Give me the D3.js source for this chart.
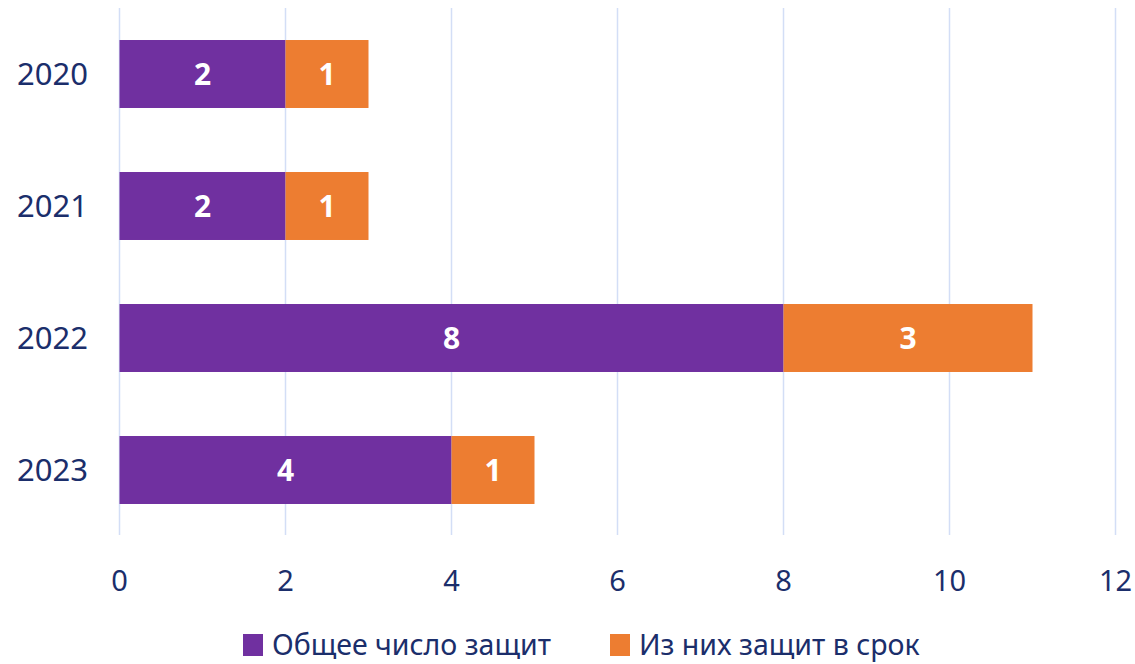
<!DOCTYPE html>
<html>
<head>
<meta charset="utf-8">
<script src="https://cdn.jsdelivr.net/npm/d3@7"></script>
<style>
  body { margin: 0; background: #fff; }
  svg { display: block; font-family: "Noto Sans", Lato, sans-serif; }
</style>
</head>
<body>
<svg id="chart" width="1135" height="664"></svg>
<script>
// Данные
const years = ['2020', '2021', '2022', '2023'];
const totalDefenses = [2, 2, 8, 4];
const onTimeDefenses = [1, 1, 3, 1];
const seriesNames = ['Общее число защит', 'Из них защит в срок'];
const xTicks = [0, 2, 4, 6, 8, 10, 12];

const colors = ['#7030a0', '#ed7d31'];
const textColor = '#1b2e6b';
const gridColor = '#d3def6';

const svg = d3.select('#chart');

const x = d3.scaleLinear().domain([0, 12]).range([119.5, 1115.5]);
const y = d3.scaleBand().domain(years).range([8, 536]).paddingInner(0.485).paddingOuter(0.2425);

// Сетка
svg.append('g')
  .selectAll('line')
  .data(xTicks)
  .join('line')
  .attr('x1', d => x(d)).attr('x2', d => x(d))
  .attr('y1', 8).attr('y2', 535)
  .attr('stroke', gridColor)
  .attr('stroke-width', 1.5);

// Подписи оси X
svg.append('g')
  .selectAll('text')
  .data(xTicks)
  .join('text')
  .attr('x', d => x(d))
  .attr('y', 591)
  .attr('text-anchor', 'middle')
  .attr('fill', textColor)
  .style('font-size', '29px')
  .text(d => d);

// Подписи категорий
svg.append('g')
  .selectAll('text')
  .data(years)
  .join('text')
  .attr('x', 88)
  .attr('y', d => y(d) + y.bandwidth() / 2)
  .attr('dy', '0.36em')
  .attr('text-anchor', 'end')
  .attr('fill', textColor)
  .style('font-size', '31px')
  .text(d => d);

// Стек
const rows = years.map((yr, i) => ({ year: yr, total: totalDefenses[i], onTime: onTimeDefenses[i] }));
const stack = d3.stack().keys(['total', 'onTime'])(rows);

stack.forEach((layer, li) => {
  const g = svg.append('g');
  g.selectAll('rect')
    .data(layer)
    .join('rect')
    .attr('x', d => x(d[0]))
    .attr('y', d => y(d.data.year))
    .attr('width', d => x(d[1]) - x(d[0]))
    .attr('height', y.bandwidth())
    .attr('fill', colors[li]);
  g.selectAll('text')
    .data(layer)
    .join('text')
    .attr('x', d => (x(d[0]) + x(d[1])) / 2)
    .attr('y', d => y(d.data.year) + y.bandwidth() / 2)
    .attr('dy', '0.36em')
    .attr('text-anchor', 'middle')
    .attr('fill', '#fff')
    .style('font-size', '30px')
    .style('font-weight', 'bold')
    .text(d => d[1] - d[0]);
});

// Легенда
const legendX = [243, 610];
const legend = svg.append('g')
  .selectAll('g')
  .data(seriesNames)
  .join('g')
  .attr('transform', (d, i) => `translate(${legendX[i]},634)`);
legend.append('rect')
  .attr('width', 20).attr('height', 22)
  .attr('fill', (d, i) => colors[i]);
legend.append('text')
  .attr('x', 29)
  .attr('y', 11)
  .attr('dy', '0.36em')
  .attr('fill', textColor)
  .style('font-size', '28.5px')
  .text(d => d);
</script>
</body>
</html>
